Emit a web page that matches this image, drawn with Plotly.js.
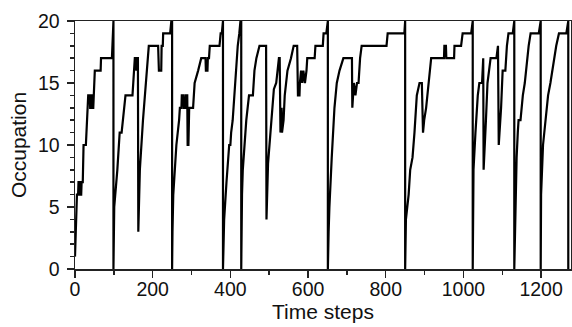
<!DOCTYPE html>
<html>
<head>
<meta charset="utf-8">
<script src="https://cdn.plot.ly/plotly-3.0.1.min.js"></script>
<style>html,body{margin:0;padding:0;background:#fff;}#chart{width:572px;height:327px;}</style>
</head>
<body>
<div id="chart"></div>
<script>
// Time step at each breakpoint of the occupation trace
const timeSteps = [
  0,4,5,8,9,12,13,16,17,20,22,28,30,34,38,39,41,42,44,45,47,48,51,66,67,95,99,99,
  101,109,115,120,130,148,154,157,158,160,162,163,167,175,182,186,190,214,216,222,223,226,227,245,248,250,250,
  251,253,261,268,270,274,275,279,280,284,285,289,290,292,294,304,308,317,325,336,337,341,342,345,347,372,375,378,381,381,
  384,390,397,400,402,406,410,415,419,423,426,428,428,
  430,432,441,448,458,462,467,475,492,493,497,505,512,518,525,527,529,532,533,537,540,547,556,563,572,574,578,579,582,585,588,592,596,598,617,619,638,640,647,651,651,
  653,655,661,668,674,681,691,713,714,716,718,722,726,730,734,738,802,805,848,850,850,
  852,859,863,869,874,880,887,893,896,899,904,911,914,917,950,951,955,956,976,977,994,998,1020,1024,1024,
  1026,1031,1037,1041,1048,1051,1052,1058,1062,1066,1070,1085,1089,1091,1097,1101,1108,1112,1116,1127,1131,1131,
  1134,1137,1140,1142,1147,1153,1158,1161,1164,1168,1173,1194,1199,1199,
  1200,1205,1212,1218,1224,1229,1233,1239,1246,1265,1270,1270
];
// Occupation at each breakpoint
const occupation = [
  1,5,6,6,7,7,6,6,7,7,10,10,11,14,14,13,13,14,14,13,13,14,16,16,17,17,20,0,
  5,8,11,11,14,14,17,17,16,17,17,3,8,12,15,16,18,18,16,16,18,18,19,19,20,20,0,
  3,6,10,12,13,13,14,14,13,13,14,14,10,10,13,13,15,16,17,17,16,16,17,17,18,18,19,19,20,0,
  4,7,10,10,11,12,14,16,18,19,20,20,0,
  6,8,12,14,14,16,17,18,18,4,8.5,12,14.5,15,17,17,11,13,11,12,14,16,17,18,18,14,14,15,16,15,16,15,16,17,17,18,18,19,19,20,0,
  3,5,9,13,15,16,17,17,13,14,15,14,15,15,17,18,18,19,19,20,0,
  4,6,8,9,11,14,15,15,11,12,13,15,16,17,17,18,18,17,17,18,18,19,19,20,0,
  8,11,14,15,15,17,8,12,15,16,17,17,18,10,13,16,16,18,19,19,20,0,
  6,9,11,12,12,14,15,16,17,18,19,19,20,0,
  6,10,12,14,15,16,17,18,19,19,20,0
];
const xTickValues = [0,200,400,600,800,1000,1200];
const yTickValues = [0,5,10,15,20];

const axisColor = '#222';
const fontFamily = 'Liberation Sans, Arial, sans-serif';

Plotly.newPlot('chart', [{
  x: timeSteps,
  y: occupation,
  type: 'scatter',
  mode: 'lines',
  line: {color: '#000', width: 2.2},
  hoverinfo: 'skip'
}], {
  width: 572, height: 327,
  margin: {l: 75, r: 1, t: 21, b: 58},
  paper_bgcolor: '#fff', plot_bgcolor: '#fff',
  showlegend: false,
  font: {family: fontFamily, color: '#111', size: 19},
  xaxis: {
    range: [0, 1277],
    tickmode: 'array', tickvals: xTickValues, ticktext: xTickValues.map(String),
    ticks: 'outside', ticklen: 7, tickwidth: 1.5, tickcolor: axisColor,
    ticklabelstandoff: -5,
    minor: {dtick: 100, tick0: 0, ticks: 'outside', ticklen: 4, tickwidth: 1.5, tickcolor: axisColor, showgrid: false},
    showline: true, linecolor: axisColor, linewidth: 1.5, mirror: true,
    showgrid: false, zeroline: false,
    tickfont: {size: 19.5, family: fontFamily, color: '#111'},
    title: {text: 'Time steps', font: {size: 21, family: fontFamily, color: '#111'}, standoff: 3}
  },
  yaxis: {
    range: [0, 20],
    tickmode: 'array', tickvals: yTickValues, ticktext: yTickValues.map(String),
    ticks: 'outside', ticklen: 7, tickwidth: 1.5, tickcolor: axisColor,
    ticklabelstandoff: 3,
    minor: {dtick: 1, tick0: 0, ticks: 'outside', ticklen: 4, tickwidth: 1.5, tickcolor: axisColor, showgrid: false},
    showline: true, linecolor: axisColor, linewidth: 1.5, mirror: true,
    showgrid: false, zeroline: false,
    tickfont: {size: 19.5, family: fontFamily, color: '#111'},
    title: {text: 'Occupation', font: {size: 21, family: fontFamily, color: '#111'}, standoff: 5}
  }
}, {staticPlot: true, displayModeBar: false});
</script>
</body>
</html>
